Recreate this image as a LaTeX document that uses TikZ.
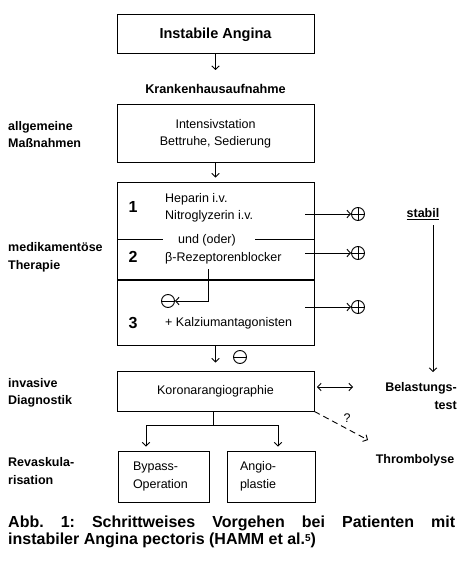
\documentclass[tikz,border=0pt]{standalone}
\usepackage{fontspec}
\setmainfont{Liberation Sans}
\usetikzlibrary{arrows.meta, positioning}
\frenchspacing

\begin{document}
\begin{tikzpicture}[x=1pt, y=1pt,
  box/.style={draw, line width=1pt, inner sep=0pt},
  lab/.style={font=\fontsize{12.5}{17.5}\selectfont\bfseries, align=left, anchor=west, inner sep=0pt},
  txt/.style={font=\fontsize{12.5}{17.5}\selectfont, inner sep=0pt},
  num/.style={font=\fontsize{16}{18}\selectfont\bfseries, inner sep=0pt},
  arr/.style={-{Straight Barb[length=3.5pt, width=7.5pt]}, line width=0.9pt},
  oplus/.style={circle, draw, line width=0.9pt, minimum size=13pt, inner sep=0pt,
    path picture={\draw[line width=0.9pt] (path picture bounding box.north) -- (path picture bounding box.south)
      (path picture bounding box.west) -- (path picture bounding box.east);}},
  ominus/.style={circle, draw, line width=0.9pt, minimum size=13pt, inner sep=0pt,
    path picture={\draw[line width=0.9pt] (path picture bounding box.west) -- (path picture bounding box.east);}}]
  \useasboundingbox (0,0) rectangle (458,-572);
  % Left column
  \node[lab] (allg) at (8,-134.5) {allgemeine\\Maßnahmen};
  \node[lab] (medi) at (8,-257.5) {medikamentöse\\Therapie};
  \node[lab] (inva) at (8,-393) {invasive\\Diagnostik};
  \node[lab] (reva) at (8,-471) {Revaskula-\\risation};
  % Main column
  \node[box, minimum width=197pt, minimum height=39pt, font=\fontsize{14.5}{16}\selectfont\bfseries] (angina) at (215.5,-34.5) {Instabile Angina};
  \node[font=\fontsize{12.7}{14}\selectfont\bfseries, inner sep=0pt] (aufn) at (215.5,-89) {Krankenhausaufnahme};
  \coordinate (a1) at (215.5,-70);
  \draw[arr] (angina) -- (a1);
  \node[box, minimum width=197pt, minimum height=58pt, txt, align=center] (intens) at (215.5,-134) {Intensivstation\\Bettruhe, Sedierung};
  \node[box, minimum width=197pt, minimum height=163pt] (thera) at (215.5,-263.5) {};
  \draw[arr, shorten >=4pt] (intens) -- (thera.north);
  % Therapy steps
  \node[num] (n1) at (133,-207) {1};
  \node[txt, align=left, anchor=west] (hep) at (165,-208) {Heparin i.v.\\Nitroglyzerin i.v.};
  \node[txt] (oder) at (207,-240) {und (oder)};
  \draw[line width=1pt] (117,-239) -- (163,-239) (255,-239) -- (314,-239);
  \node[num] (n2) at (133,-257) {2};
  \node[txt, anchor=west] (beta) at (165,-258) {β-Rezeptorenblocker};
  \draw[line width=1.8pt] (117,-280) -- (314,-280);
  \node[num] (n3) at (133,-323) {3};
  \node[txt, anchor=west] (kalz) at (165,-323) {+ Kalziumantagonisten};
  \node[ominus] (m1) at (168,-301) {};
  \coordinate (b0) at (208,-269);
  \draw[arr] (b0) |- (m1);
  % Positive outcomes
  \foreach \y/\n in {-214/p1, -253/p2, -307/p3} {
    \coordinate (s\n) at (305,\y);
    \node[oplus] (\n) at (358,\y) {};
    \draw[arr] (s\n) -- (\n);
  }
  \node[font=\fontsize{12.5}{14}\selectfont\bfseries, inner sep=0pt] (stab) at (423,-214) {\underline{stabil}};
  \coordinate (st0) at (433,-225);
  \coordinate (st1) at (433,-372);
  \draw[arr] (st0) -- (st1);
  % Diagnostics
  \node[box, minimum width=197pt, minimum height=40pt, txt] (koro) at (215.5,-391) {Koronarangiographie};
  \draw[arr, shorten >=8pt] (thera) -- (koro.north);
  \node[ominus] (m2) at (240,-357) {};
  \node[lab, align=right, anchor=east] (bel) at (457,-396) {Belastungs-\\test};
  \coordinate (c0) at (317,-387);
  \coordinate (c1) at (353,-387);
  \draw[arr, {Straight Barb[length=3.5pt, width=7.5pt]}-{Straight Barb[length=3.5pt, width=7.5pt]}] (c0) -- (c1);
  \node[lab, anchor=center] (thrombo) at (415,-460) {Thrombolyse};
  \coordinate (d1) at (368,-440);
  \draw[arr, dash pattern=on 6pt off 4pt] (koro.south east) -- (d1);
  \node[font=\fontsize{12.5}{14}\selectfont, inner sep=0pt] (q) at (347,-418) {?};
  % Revascularisation
  \node[box, minimum width=91pt, minimum height=51pt, txt, align=left, text width=61pt] (byp) at (163.5,-476.5) {Bypass-\\Operation};
  \node[box, minimum width=88pt, minimum height=51pt, txt, align=left, text width=62pt] (angio) at (271,-476.5) {Angio-\\plastie};
  \coordinate (k0) at (213,-425);
  \coordinate (tl) at (146,-425);
  \coordinate (tr) at (278,-425);
  \draw[line width=0.9pt] (koro.south -| k0) -- (k0) (tl) -- (tr);
  \draw[arr, shorten >=4pt] (tl) -- (tl |- byp.north);
  \draw[arr, shorten >=4pt] (tr) -- (tr |- angio.north);
  % Caption
  \node[anchor=north west, text width=447pt, align=justify, inner sep=0pt, font=\fontsize{16}{17}\selectfont\bfseries] (capt) at (8,-516) {Abb. 1: Schrittweises Vorgehen bei Patienten mit\linebreak instabiler Angina pectoris (HAMM et al.{\fontsize{10}{10}\selectfont\raisebox{3pt}{5}})};
\end{tikzpicture}
\end{document}
